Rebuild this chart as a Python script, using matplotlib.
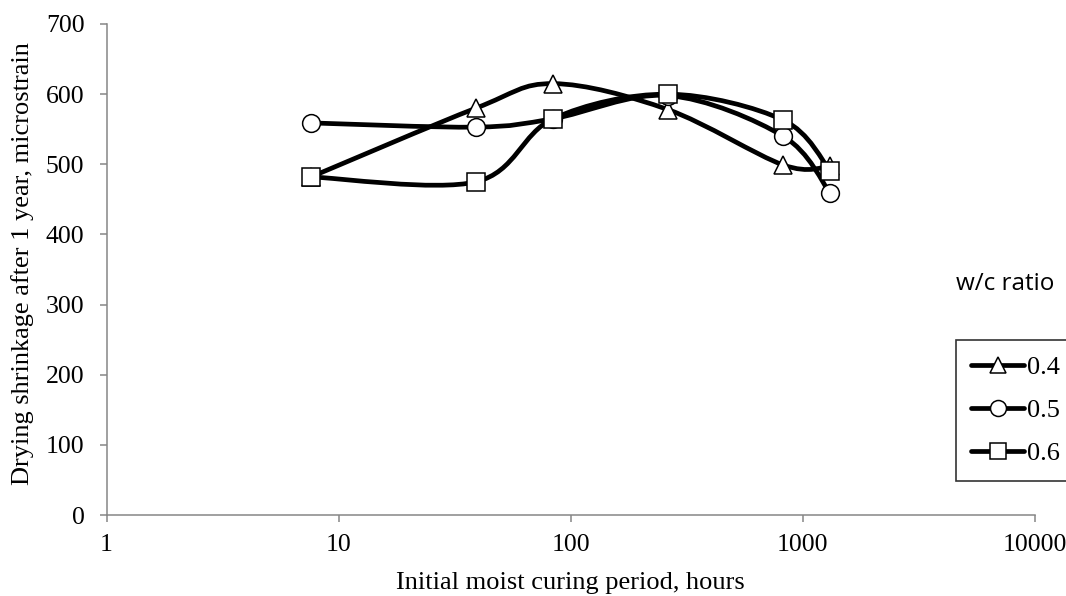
import matplotlib
matplotlib.use("Agg")
import matplotlib.pyplot as plt
import numpy as np
from matplotlib.lines import Line2D
from matplotlib.path import Path
from matplotlib.patches import PathPatch

# curing periods (hours) and 1-year drying shrinkage (microstrain) per w/c ratio
hours = [7.6, 39, 84, 262, 823, 1309]
shrink_04 = [482, 580, 615, 578, 499, 497]
shrink_05 = [559, 553, 565, 598, 540, 459]
shrink_06 = [482, 475, 565, 600, 563, 491]

series = [
    ("0.4", shrink_04, "^"),
    ("0.5", shrink_05, "o"),
    ("0.6", shrink_06, "s"),
]

GRAY = "#868686"
SERIF = "Liberation Serif"
FS = 18.5


def smooth_path(x, y):
    """Cardinal (Catmull-Rom) bezier through the points, built in log-x space."""
    u = np.log10(np.asarray(x, float))
    v = np.asarray(y, float)
    pts = np.column_stack([u, v])
    n = len(pts)
    verts = [pts[0]]
    codes = [Path.MOVETO]
    for i in range(n - 1):
        p0 = pts[max(i - 1, 0)]
        p1 = pts[i]
        p2 = pts[i + 1]
        p3 = pts[min(i + 2, n - 1)]
        c1 = p1 + (p2 - p0) / 6.0
        c2 = p2 - (p3 - p1) / 6.0
        verts += [c1, c2, p2]
        codes += [Path.CURVE4] * 3
    verts = np.array(verts)
    verts[:, 0] = 10 ** verts[:, 0]
    return Path(verts, codes)


fig = plt.figure(figsize=(10.66, 5.96), dpi=100)
ax = fig.add_axes([106.6 / 1066, 1 - 515 / 596, (1035 - 106.6) / 1066, (515 - 24) / 596])

for k, (label, vals, mk) in enumerate(series):
    z = 3 + 2 * k
    ax.add_patch(PathPatch(smooth_path(hours, vals), facecolor="none",
                           edgecolor="black", lw=3.4, capstyle="round",
                           joinstyle="round", zorder=z))
    ax.plot(hours, vals, ls="none", marker=mk, markersize=12.8,
            markerfacecolor="white", markeredgecolor="black",
            markeredgewidth=1.1, zorder=z + 1)

ax.set_xscale("log")
ax.set_xlim(1, 10000)
ax.set_ylim(0, 700)
ax.set_xticks([1, 10, 100, 1000, 10000])
ax.set_xticklabels(["1", "10", "100", "1000", "10000"])
ax.xaxis.set_minor_locator(matplotlib.ticker.NullLocator())
ax.set_yticks(range(0, 701, 100))

for side in ("top", "right"):
    ax.spines[side].set_visible(False)
for side in ("left", "bottom"):
    ax.spines[side].set_color(GRAY)
    ax.spines[side].set_linewidth(1.1)
ax.tick_params(axis="both", colors=GRAY, length=5, width=1.1, direction="out",
               labelcolor="black", labelsize=FS)
ax.tick_params(axis="x", pad=8.5)
ax.tick_params(axis="y", pad=11)
for t in ax.get_xticklabels() + ax.get_yticklabels():
    t.set_fontfamily(SERIF)

ax.set_xlabel("Initial moist curing period, hours", fontfamily=SERIF,
              fontsize=19, labelpad=12)
ax.set_ylabel("Drying shrinkage after 1 year, microstrain", fontfamily=SERIF,
              fontsize=19)
ax.yaxis.set_label_coords(-0.078, 0.513)

handles = [Line2D([], [], color="black", lw=3.4, marker=mk, markersize=11.5,
                  markerfacecolor="white", markeredgecolor="black",
                  markeredgewidth=1.1, solid_capstyle="round")
           for _, _, mk in series]
leg = ax.legend(handles, [s[0] for s in series], loc="upper left",
                bbox_to_anchor=(956 / 1066, 1 - 340 / 596),
                bbox_transform=fig.transFigure, borderaxespad=0,
                frameon=True, fancybox=False, handlelength=2.0,
                handletextpad=0.1, labelspacing=0.75, borderpad=0.58,
                prop={"family": SERIF, "size": 19})
leg.get_frame().set_edgecolor("black")
leg.get_frame().set_linewidth(1.2)
leg.set_zorder(20)

fig.text(1005 / 1066, 1 - 284 / 596, "w/c ratio", ha="center", va="center",
         fontfamily="Open Sans", fontsize=17.5)

fig.savefig("out.png", dpi=100)
